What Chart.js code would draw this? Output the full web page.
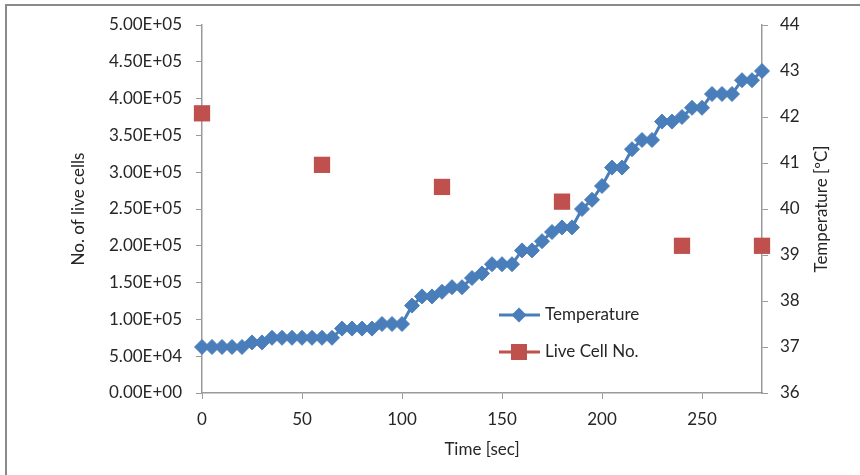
<!DOCTYPE html>
<html lang="en">
<head>
  <meta charset="UTF-8" />
  <title>Temperature and live cells</title>
  <script src="https://cdn.jsdelivr.net/npm/chart.js"></script>
  <style>
    html, body {
      margin: 0;
      padding: 0;
      background: #fff;
      overflow: hidden;
    }
    .wrap {
      position: relative;
      width: 860px;
      height: 475px;
      overflow: hidden;
    }
    .frame {
      position: absolute;
      left: 5px;
      top: 4px;
      width: 900px;
      height: 520px;
      border: 2px solid #8a8a8a;
      pointer-events: none;
    }
    canvas {
      position: absolute;
      left: 0;
      top: 0;
    }
  </style>
</head>
<body>
  <div class="wrap">
    <canvas id="chart" width="860" height="475"></canvas>
    <div class="frame"></div>
  </div>

  <script>
    // temperature readings, every 5 s
    const tempTimes = [0, 5, 10, 15, 20, 25, 30, 35, 40, 45, 50, 55, 60, 65, 70, 75, 80, 85, 90, 95,
      100, 105, 110, 115, 120, 125, 130, 135, 140, 145, 150, 155, 160, 165, 170, 175, 180, 185, 190, 195,
      200, 205, 210, 215, 220, 225, 230, 235, 240, 245, 250, 255, 260, 265, 270, 275, 280];
    const temperature = [37.0, 37.0, 37.0, 37.0, 37.0, 37.1, 37.1, 37.2, 37.2, 37.2, 37.2, 37.2, 37.2, 37.2, 37.4, 37.4, 37.4, 37.4, 37.5, 37.5,
      37.5, 37.9, 38.1, 38.1, 38.2, 38.3, 38.3, 38.5, 38.6, 38.8, 38.8, 38.8, 39.1, 39.1, 39.3, 39.5, 39.6, 39.6, 40.0, 40.2,
      40.5, 40.9, 40.9, 41.3, 41.5, 41.5, 41.9, 41.9, 42.0, 42.2, 42.2, 42.5, 42.5, 42.5, 42.8, 42.8, 43.0];

    // live cell counts
    const cellTimes = [0, 60, 120, 180, 240, 280];
    const liveCells = [380000, 310000, 280000, 260000, 200000, 200000];

    const blue = '#4a7ebb';
    const red = '#c0504d';
    const axisGrey = '#9a9a9a';
    const textCol = '#262626';
    const fontFam = "Lato, 'Open Sans', sans-serif";

    function sci(v) {
      if (v === 0) return '0.00E+00';
      const e = Math.floor(Math.log10(Math.abs(v)));
      const m = v / Math.pow(10, e);
      return m.toFixed(2) + 'E' + (e < 0 ? '-' : '+') + String(Math.abs(e)).padStart(2, '0');
    }

    // legend drawn inside the plot like the excel one, plus the right axis title
    // (chart.js turns right titles top-to-bottom, excel reads bottom-to-top)
    const extrasPlugin = {
      id: 'extras',
      afterDraw(chart) {
        const ctx = chart.ctx;
        ctx.save();
        ctx.font = '17px ' + fontFam;
        ctx.fillStyle = textCol;
        ctx.textBaseline = 'middle';

        // temperature row
        let y = 315;
        ctx.strokeStyle = blue;
        ctx.lineWidth = 3;
        ctx.beginPath();
        ctx.moveTo(499, y);
        ctx.lineTo(540, y);
        ctx.stroke();
        ctx.fillStyle = blue;
        ctx.beginPath();
        ctx.moveTo(519 - 7.5, y);
        ctx.lineTo(519, y - 7.5);
        ctx.lineTo(519 + 7.5, y);
        ctx.lineTo(519, y + 7.5);
        ctx.closePath();
        ctx.fill();
        ctx.fillStyle = textCol;
        ctx.fillText('Temperature', 545, y);

        // live cell row
        y = 352;
        ctx.strokeStyle = red;
        ctx.beginPath();
        ctx.moveTo(499, y);
        ctx.lineTo(540, y);
        ctx.stroke();
        ctx.fillStyle = red;
        ctx.fillRect(519 - 8, y - 8, 16, 16);
        ctx.fillStyle = textCol;
        ctx.fillText('Live Cell No.', 545, y);

        // right axis title
        const area = chart.chartArea;
        ctx.translate(822, (area.top + area.bottom) / 2);
        ctx.rotate(-Math.PI / 2);
        ctx.textAlign = 'center';
        ctx.fillText('Temperature [ºC]', 0, 0);
        ctx.restore();
      }
    };

    new Chart(document.getElementById('chart').getContext('2d'), {
      type: 'scatter',
      data: {
        datasets: [{
          label: 'Temperature',
          data: tempTimes.map((t, i) => ({ x: t, y: temperature[i] })),
          yAxisID: 'yT',
          showLine: true,
          borderColor: blue,
          borderWidth: 3,
          backgroundColor: blue,
          pointStyle: 'rectRot',
          pointRadius: 7.5,
          pointBorderWidth: 1,
          pointBorderColor: blue,
          clip: false,
          order: 2
        }, {
          label: 'Live Cell No.',
          data: cellTimes.map((t, i) => ({ x: t, y: liveCells[i] })),
          yAxisID: 'yC',
          showLine: false,
          backgroundColor: red,
          borderColor: red,
          pointStyle: 'rect',
          pointRadius: 11.5,
          pointBorderWidth: 0,
          clip: false,
          order: 1
        }]
      },
      options: {
        responsive: false,
        animation: false,
        layout: { padding: { top: 25, left: 0, right: 0, bottom: 0 } },
        plugins: {
          legend: { display: false },
          tooltip: { enabled: false }
        },
        scales: {
          x: {
            type: 'linear',
            min: 0,
            max: 280,
            afterBuildTicks: s => { s.ticks = s.ticks.filter(t => t.value % 50 === 0); },
            afterFit: s => { s.height = 82; },
            ticks: {
              stepSize: 50,
              padding: 10,
              color: textCol,
              font: { family: fontFam, size: 17 }
            },
            grid: {
              drawOnChartArea: false,
              tickLength: 6,
              color: axisGrey
            },
            border: { color: axisGrey, width: 1.5 },
            title: {
              display: true,
              text: 'Time [sec]',
              color: textCol,
              font: { family: fontFam, size: 17 },
              padding: { top: 0, bottom: 15 }
            }
          },
          yC: {
            position: 'left',
            min: 0,
            max: 500000,
            afterFit: s => { s.width = 202; },
            ticks: {
              stepSize: 50000,
              padding: 14,
              color: textCol,
              font: { family: fontFam, size: 17 },
              callback: v => sci(v)
            },
            grid: {
              drawOnChartArea: false,
              tickLength: 6,
              color: axisGrey
            },
            border: { color: axisGrey, width: 1.5 },
            title: {
              display: true,
              text: 'No. of live cells',
              color: textCol,
              font: { family: fontFam, size: 17 },
              padding: { top: 68, bottom: 0 }
            }
          },
          yT: {
            position: 'right',
            min: 36,
            max: 44,
            afterFit: s => { s.width = 98; },
            ticks: {
              stepSize: 1,
              padding: 12,
              color: textCol,
              font: { family: fontFam, size: 17 }
            },
            grid: {
              drawOnChartArea: false,
              tickLength: 6,
              color: axisGrey
            },
            border: { color: axisGrey, width: 1.5 }
          }
        }
      },
      plugins: [extrasPlugin]
    });
  </script>
</body>
</html>
